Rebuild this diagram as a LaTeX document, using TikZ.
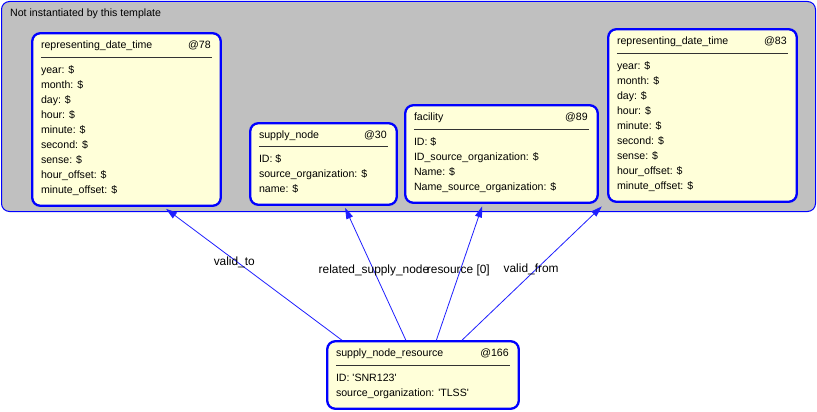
\documentclass[tikz,border=0pt]{standalone}
\usepackage{fontspec}
\setmainfont{Liberation Sans}
\usetikzlibrary{arrows.meta}
\definecolor{boxfill}{RGB}{255,255,217}
\definecolor{tmplgray}{RGB}{192,192,192}
\definecolor{linkblue}{RGB}{30,30,255}
\begin{document}
\begin{tikzpicture}[x=1pt,y=-1pt,
  tmpl/.style={draw=blue,line width=1pt,fill=tmplgray,rounded corners=8pt,minimum width=814pt,minimum height=210pt,inner sep=0pt},
  obj/.style={draw=blue,line width=2.3pt,fill=boxfill,rounded corners=8pt,inner sep=0pt},
  txt/.style={inner sep=0pt,font=\fontsize{10.6}{15}\selectfont,align=left},
  sep/.style={draw=black!80,line width=0.9pt},
  lbl/.style={inner sep=0pt,font=\fontsize{11.9}{14}\selectfont},
  link/.style={draw=linkblue,line width=0.8pt,-{Triangle[length=11pt,width=7pt]}}]
\useasboundingbox (0,0) rectangle (817,412);
\node[tmpl] (tmpl) at (408.5,106.5) {};
\node[txt,anchor=base west] (tmplname) at (10,17) {Not instantiated by this template};
\node[obj,minimum width=188.5pt,minimum height=172.5pt] (rdt78) at (126.5,119.5) {};
\node[txt,anchor=base west] (rdt78name) at ([xshift=9.7pt,yshift=-16.5pt]rdt78.north west) {representing\_date\_time};
\node[txt,anchor=base east] (rdt78id) at ([xshift=-11pt,yshift=-16.5pt]rdt78.north east) {@78};
\draw[sep] ([xshift=9.7pt,yshift=-24.9pt]rdt78.north west) -- ([xshift=-9.7pt,yshift=-24.9pt]rdt78.north east);
\node[txt,anchor=north west] (rdt78attr) at ([xshift=9.7pt,yshift=-33.5pt]rdt78.north west) {year: \$\\month: \$\\day: \$\\hour: \$\\minute: \$\\second: \$\\sense: \$\\hour\_offset: \$\\minute\_offset: \$};
\node[obj,minimum width=146.5pt,minimum height=81.5pt] (sn30) at (323.5,164) {};
\node[txt,anchor=base west] (sn30name) at ([xshift=9.7pt,yshift=-16pt]sn30.north west) {supply\_node};
\node[txt,anchor=base east] (sn30id) at ([xshift=-11pt,yshift=-16pt]sn30.north east) {@30};
\draw[sep] ([xshift=9.7pt,yshift=-24.2pt]sn30.north west) -- ([xshift=-9.7pt,yshift=-24.2pt]sn30.north east);
\node[txt,anchor=north west] (sn30attr) at ([xshift=9.7pt,yshift=-32.8pt]sn30.north west) {ID: \$\\source\_organization: \$\\name: \$};
\node[obj,minimum width=192.5pt,minimum height=97.5pt] (fac89) at (501.5,154) {};
\node[txt,anchor=base west] (fac89name) at ([xshift=9.7pt,yshift=-16.5pt]fac89.north west) {facility};
\node[txt,anchor=base east] (fac89id) at ([xshift=-11pt,yshift=-16.5pt]fac89.north east) {@89};
\draw[sep] ([xshift=9.7pt,yshift=-24.9pt]fac89.north west) -- ([xshift=-9.7pt,yshift=-24.9pt]fac89.north east);
\node[txt,anchor=north west] (fac89attr) at ([xshift=9.7pt,yshift=-33.5pt]fac89.north west) {ID: \$\\ID\_source\_organization: \$\\Name: \$\\Name\_source\_organization: \$};
\node[obj,minimum width=188.5pt,minimum height=172.5pt] (rdt83) at (702.5,115.5) {};
\node[txt,anchor=base west] (rdt83name) at ([xshift=9.7pt,yshift=-16.5pt]rdt83.north west) {representing\_date\_time};
\node[txt,anchor=base east] (rdt83id) at ([xshift=-11pt,yshift=-16.5pt]rdt83.north east) {@83};
\draw[sep] ([xshift=9.7pt,yshift=-24.9pt]rdt83.north west) -- ([xshift=-9.7pt,yshift=-24.9pt]rdt83.north east);
\node[txt,anchor=north west] (rdt83attr) at ([xshift=9.7pt,yshift=-33.5pt]rdt83.north west) {year: \$\\month: \$\\day: \$\\hour: \$\\minute: \$\\second: \$\\sense: \$\\hour\_offset: \$\\minute\_offset: \$};
\node[obj,minimum width=191.5pt,minimum height=67.5pt] (snr166) at (423,375) {};
\node[txt,anchor=base west] (snr166name) at ([xshift=9.7pt,yshift=-16pt]snr166.north west) {supply\_node\_resource};
\node[txt,anchor=base east] (snr166id) at ([xshift=-11pt,yshift=-16pt]snr166.north east) {@166};
\draw[sep] ([xshift=9.7pt,yshift=-24.9pt]snr166.north west) -- ([xshift=-9.7pt,yshift=-24.9pt]snr166.north east);
\node[txt,anchor=north west] (snr166attr) at ([xshift=9.7pt,yshift=-34pt]snr166.north west) {ID: \textquotesingle SNR123\textquotesingle\\source\_organization: \textquotesingle TLSS\textquotesingle};
\draw[link] ([xshift=15.7pt]snr166.north west) -- node[lbl,pos=0.595,xshift=-3pt] (validto) {valid\_to} ([xshift=135pt,yshift=-2pt]rdt78.south west);
\draw[link] ([xshift=79.7pt]snr166.north west) -- node[lbl,pos=0.525] (relsn) {related\_supply\_node} ([xshift=96pt,yshift=-2pt]sn30.south west);
\draw[link] ([xshift=110.3pt]snr166.north west) -- node[lbl,pos=0.524,xshift=-2pt] (res0) {resource [0]} ([xshift=78pt,yshift=-2.5pt]fac89.south west);
\draw[link] ([xshift=136pt]snr166.north west) -- node[lbl,pos=0.527,xshift=-4.6pt] (validfrom) {valid\_from} ([xshift=-5.3pt,yshift=-3.5pt]rdt83.south west);
\end{tikzpicture}
\end{document}
